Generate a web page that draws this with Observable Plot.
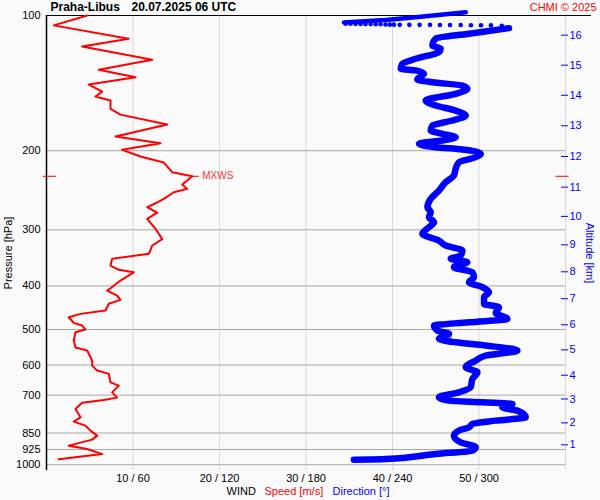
<!DOCTYPE html>
<html>
<head>
<meta charset="utf-8">
<script src="https://cdn.jsdelivr.net/npm/d3@7"></script>
<script src="https://cdn.jsdelivr.net/npm/@observablehq/plot@0.6"></script>
<style>
  html, body { margin: 0; padding: 0; background: #fafafa; }
  #chart { width: 600px; height: 500px; }
</style>
</head>
<body>
<div id="chart"></div>
<script>
// ---- Data ----
// Pressure axis ticks (hPa)
const pTicks = [100, 200, 300, 400, 500, 600, 700, 850, 925, 1000];
const pTickLabels = ["100", "200", "300", "400", "500", "600", "700", "850", "925", "1000"];
// Wind speed ticks (m/s) and matching direction (deg) labels
const xTicks = [10, 20, 30, 40, 50];
const xTickLabels = ["10 / 60", "20 / 120", "30 / 180", "40 / 240", "50 / 300"];
const xGrid = [10, 20, 30, 40, 50, 60];
// Altitude axis: km labels at their pressure levels (hPa)
const altKm = ["1", "2", "3", "4", "5", "6", "7", "8", "9", "10", "11", "12", "13", "14", "15", "16"];
const altP = [903, 807, 714, 632, 555, 488, 427, 372, 324, 280, 241, 206, 176, 150.5, 129, 110.6];

// Wind speed profile
const speedP = [100.0,105.2,112.6,117.2,125.4,132.0,137.2,142.5,147.7,151.5,154.6,161.4,166.2,174.9,186.0,192.4,199.1,206.0,212.5,223.2,227.9,237.8,243.2,247.4,256.0,261.8,267.1,274.8,283.5,298.4,314.6,325.1,339.3,348.1,360.2,368.2,372.9,389.0,404.6,409.5,420.1,429.5,438.3,453.7,461.5,469.5,483.4,490.0,500.2,507.2,529.2,548.3,557.0,586.3,601.6,617.2,627.8,655.7,666.6,690.0,708.9,717.5,727.6,751.4,784.2,801.9,818.4,839.6,861.4,879.3,906.8,922.4,947.0,972.7];
const speedV = [4.70,0.84,9.51,4.12,12.22,6.04,10.29,4.89,6.44,5.66,7.40,7.40,8.55,13.96,7.98,13.18,8.75,10.87,13.56,14.53,16.85,15.69,16.27,14.72,13.56,12.60,11.64,12.80,11.64,12.60,13.38,12.22,11.83,7.59,7.40,8.36,10.09,8.55,7.40,7.02,8.17,8.55,7.20,6.82,3.93,2.57,3.15,4.12,4.51,3.35,3.15,3.35,4.70,5.28,5.28,5.86,7.20,7.40,8.36,7.59,8.17,6.62,4.12,3.35,3.93,3.15,4.51,5.08,5.86,5.28,2.57,4.70,6.44,1.42];

// Max wind (MXWS)
const mxwsP = 228;
const mxwsSpeed = 16.85;

// Wind direction profile (main, dense part)
const dirP = [106.7,109.8,112.6,116.6,118.6,120.6,124.8,128.1,131.4,132.5,134.8,138.8,140.8,143.2,145.6,149.4,154.6,158.6,162.8,167.0,171.3,175.8,180.3,183.4,186.6,189.8,193.0,196.4,198.7,203.2,207.9,212.1,219.5,227.1,235.0,245.3,256.0,267.1,274.0,281.1,288.5,296.0,306.2,316.9,325.1,333.5,342.2,348.0,354.1,363.3,372.8,382.4,392.3,402.6,413.1,423.8,438.5,446.1,459.3,473.5,481.9,490.0,502.7,511.4,524.6,533.9,542.9,557.0,571.5,586.3,606.8,622.5,644.5,672.4,689.8,707.8,719.9,726.2,732.5,745.2,757.8,784.2,797.6,811.4,825.5,839.6,861.4,891.4,913.7,930.2,946.1,971.1,974.7];
const dirV = [320.8,293.1,269.9,267.7,273.4,272.2,256.1,246.8,245.7,256.1,261.8,257.2,267.7,288.5,291.9,283.8,263.0,269.9,283.8,290.8,281.5,267.7,266.5,274.6,283.8,274.6,258.4,269.9,288.5,301.2,295.4,286.1,283.8,282.6,276.9,272.2,266.5,264.2,266.5,265.3,268.8,265.3,260.7,272.2,276.9,288.5,287.3,280.4,291.9,282.6,295.4,296.5,293.1,302.4,306.9,303.5,303.5,313.9,311.6,319.7,293.1,268.8,271.1,279.2,272.2,283.8,304.6,326.6,304.6,297.7,290.8,298.9,295.4,294.2,286.1,272.2,279.2,302.4,323.2,316.2,326.6,332.4,311.6,295.4,293.1,286.1,282.6,287.3,297.7,295.4,269.9,235.2,213.2];

// Sparse direction points near the top
const topDotDir = [207.5,210.9,214.4,217.9,221.3,224.8,228.3,231.7,235.2,238.2,241.0,245.0,251.7,258.8,266.0,272.9,279.9,287.3,294.4,301.4,308.3,315.8];
const topDotP = [104.3,104.3,104.4,104.4,104.5,104.5,104.6,104.6,104.7,104.8,104.8,104.9,104.9,104.9,104.9,105.0,105.0,105.0,105.1,105.1,105.2,105.4];
// Top-most direction segment (above 100 hPa)
const topLineDir = [206.3, 235.2, 259.5, 290.8];
const topLineP = [103.6, 102.3, 100.7, 98.4];

// ---- Build tables ----
const speedRows = speedP.map((p, i) => ({p, v: speedV[i]}));
const dirRows = dirP.map((p, i) => ({p, d: dirV[i]}));
const topDots = topDotP.map((p, i) => ({p, d: topDotDir[i]}));
const topLine = topLineP.map((p, i) => ({p, d: topLineDir[i]}));

const RED = "#ff0000";
const BLUE = "#0000ff";

const chart = Plot.plot({
  width: 600,
  height: 500,
  marginTop: 15,
  marginBottom: 30,
  marginLeft: 46,
  marginRight: 35,
  style: {background: "#fafafa", fontFamily: "'Liberation Sans', Arial, sans-serif", fontSize: "11px", overflow: "visible"},
  x: {domain: [0, 60]},
  y: {type: "log", domain: [100, 1030], reverse: true},
  marks: [
    Plot.gridX(xGrid, {stroke: "#d9d9d9", strokeOpacity: 1}),
    Plot.gridY(pTicks.slice(1), {stroke: "#a8a8a8", strokeOpacity: 1}),
    Plot.ruleX([0], {stroke: "black", strokeWidth: 1.5}),
    Plot.ruleY([100], {x1: 0, x2: 63, stroke: "black"}),
    Plot.axisY(pTicks, {anchor: "left", tickSize: 0, tickPadding: 6, label: null, fontSize: 11,
      tickFormat: d => pTickLabels[pTicks.indexOf(d)]}),
    Plot.axisX(xTicks, {anchor: "bottom", tickSize: 0, tickPadding: 4, label: null, fontSize: 11,
      tickFormat: d => xTickLabels[xTicks.indexOf(d)]}),
    Plot.axisY(altP, {anchor: "right", tickSize: 7, tickPadding: 2, dx: -5, label: null, fontSize: 11,
      color: BLUE, tickFormat: d => altKm[altP.indexOf(d)]}),
    // MXWS markers
    Plot.ruleY([mxwsP], {x1: -0.38, x2: 1.16, stroke: RED}),
    Plot.ruleY([mxwsP], {x1: 58.9, x2: 60.4, stroke: RED}),
    Plot.ruleY([mxwsP], {x1: mxwsSpeed, x2: mxwsSpeed + 0.8, stroke: RED}),
    Plot.text(["MXWS"], {x: mxwsSpeed, y: mxwsP, text: d => d, dx: 10, textAnchor: "start", fill: "#ff3333", fontSize: 10}),
    // Wind speed
    Plot.line(speedRows, {x: "v", y: "p", stroke: RED, strokeWidth: 2, strokeLinejoin: "round"}),
    // Wind direction (direction axis = speed axis x 6)
    Plot.line(topLine, {x: d => d.d / 6, y: "p", stroke: BLUE, strokeWidth: 4.5, strokeLinecap: "round"}),
    Plot.dot(topDots, {x: d => d.d / 6, y: "p", r: 2.3, fill: BLUE, stroke: null}),
    Plot.line(dirRows, {x: d => d.d / 6, y: "p", stroke: BLUE, strokeWidth: 6.5, strokeLinejoin: "round", strokeLinecap: "round", curve: "monotone-y"}),
    // Titles and labels
    Plot.text(["Praha-Libus"], {text: d => d, frameAnchor: "top-left", dx: 4, dy: -8, lineAnchor: "middle", textAnchor: "start", fontWeight: "bold", fontSize: 12}),
    Plot.text(["20.07.2025 06 UTC"], {text: d => d, frameAnchor: "top-left", dx: 85, dy: -8, lineAnchor: "middle", textAnchor: "start", fontWeight: "bold", fontSize: 12}),
    Plot.text(["CHMI © 2025"], {text: d => d, frameAnchor: "top-right", dx: 31, dy: -8, lineAnchor: "middle", textAnchor: "end", fill: RED, fontSize: 11}),
    Plot.text(["Pressure [hPa]"], {text: d => d, frameAnchor: "left", rotate: -90, dx: -38, dy: 10, textAnchor: "middle", lineAnchor: "middle", fontSize: 11}),
    Plot.text(["Altitude [km]"], {text: d => d, frameAnchor: "right", rotate: 90, dx: 24, dy: 10, textAnchor: "middle", lineAnchor: "middle", fill: BLUE, fontSize: 11}),
    Plot.text(["WIND"], {text: d => d, frameAnchor: "bottom-left", dx: 180, dy: 21, textAnchor: "start", lineAnchor: "middle", fontSize: 11}),
    Plot.text(["Speed [m/s]"], {text: d => d, frameAnchor: "bottom-left", dx: 218, dy: 21, textAnchor: "start", lineAnchor: "middle", fill: RED, fontSize: 11}),
    Plot.text(["Direction [°]"], {text: d => d, frameAnchor: "bottom-left", dx: 286, dy: 21, textAnchor: "start", lineAnchor: "middle", fill: BLUE, fontSize: 11})
  ]
});
document.getElementById("chart").appendChild(chart);
</script>
</body>
</html>
